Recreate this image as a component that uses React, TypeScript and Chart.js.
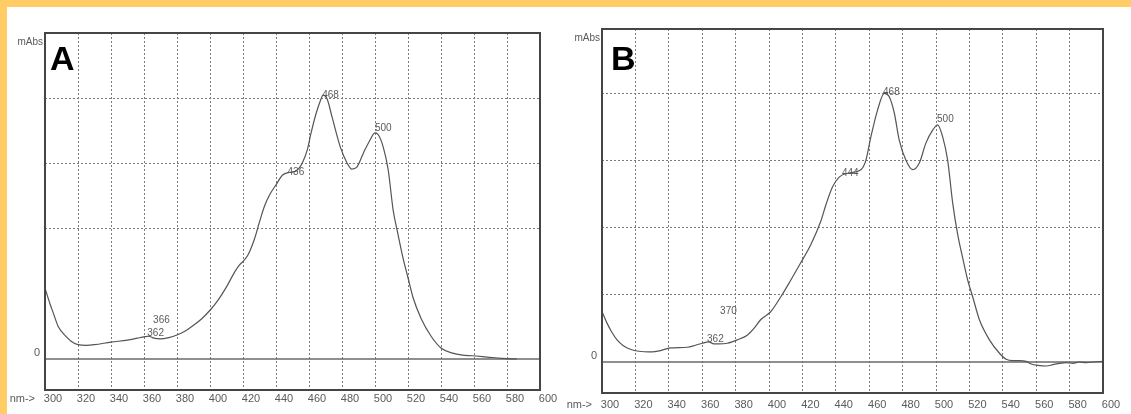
import React, { useEffect, useRef } from "react";
import { Chart, registerables } from "chart.js";

Chart.register(...registerables);

// ---------- data ----------
const wavelengthsA = [300, 303, 305, 308, 313, 316, 320, 325, 330, 340, 350, 356, 360, 363, 366, 370, 375, 380, 385, 390, 395, 400, 405, 410, 415, 418, 420, 423, 427, 430, 433, 436, 440, 444, 448, 452, 456, 459, 461, 464, 467, 468.5, 471, 474, 479, 483, 486, 489, 493, 497, 500, 502, 505, 508, 511, 514, 517, 520, 523, 528, 534, 540, 547, 553, 559, 568, 577, 586];
const absorbanceA = [109, 85, 71, 50, 34, 27, 22, 21, 22, 26, 29, 32, 34, 35, 32, 31, 33, 37, 43, 52, 62, 75, 91, 111, 134, 145, 150, 160, 185, 211, 235, 252, 268, 283, 287, 289, 302, 322, 345, 375, 398, 406, 400, 372, 326, 302, 292, 295, 317, 337, 348, 345, 326, 291, 229, 191, 155, 125, 95, 62, 35, 17, 9, 6, 5, 3, 1, 0];

const wavelengthsB = [300, 303, 306, 309, 313, 317, 322, 330, 335, 341, 351, 356, 360, 364, 367, 370, 375, 381, 387, 391, 395, 401, 407, 413, 419, 425, 431, 434, 438, 442, 448, 455, 458, 461, 465, 469, 472, 475, 478, 482, 486, 490, 494, 498, 501, 504, 507, 510, 513, 516, 519, 522, 526, 532, 538, 542, 546, 550, 554, 557, 561, 566, 570, 574, 578, 582, 586, 590, 594, 600];
const absorbanceB = [75, 58, 44, 33, 24, 19, 16, 15, 17, 21, 22, 25, 28, 30, 27, 27, 28, 33, 40, 50, 63, 75, 97, 122, 148, 175, 210, 234, 261, 276, 282, 287, 301, 336, 376, 401, 396, 372, 331, 301, 287, 297, 327, 346, 354, 336, 301, 237, 190, 155, 122, 97, 63, 33, 13, 4, 2, 2, 1, -3, -5, -6, -4, -2, -1, -2, 0, -1, 0, 1];

const xTickValues = [300, 320, 340, 360, 380, 400, 420, 440, 460, 480, 500, 520, 540, 560, 580, 600];
const gridValuesA = [200, 300, 400];
const gridValuesB = [100, 200, 300, 400];

const peakTextA = ["468", "500", "436", "366", "362"];
const peakXA = [468, 500, 447, 365.5, 362];
const peakYA = [406, 355, 288, 60, 40];

const peakTextB = ["468", "500", "444", "370", "362"];
const peakXB = [468.3, 500.6, 443.7, 370.7, 362.9];
const peakYB = [403, 363, 282, 75, 34];

const TEXT = "#5a5a5a";
const FONT = "'Liberation Sans', Arial, sans-serif";

type PanelCfg = {
  letter: string;
  xs: number[];
  ys: number[];
  grid: number[];
  peakText: string[];
  peakX: number[];
  peakY: number[];
  left: number;
  width: number;
  padTop: number;
  padRight: number;
  yWidth: number;
  xHeight: number;
  yMin: number;
  yMax: number;
  tickPad: number;
  letterDx: number;
  letterDy: number;
};

const panels: PanelCfg[] = [
  {
    letter: "A", xs: wavelengthsA, ys: absorbanceA, grid: gridValuesA,
    peakText: peakTextA, peakX: peakXA, peakY: peakYA,
    left: 0, width: 560, padTop: 33, padRight: 20, yWidth: 45, xHeight: 24,
    yMin: -47.7, yMax: 501.5, tickPad: 2, letterDx: 5, letterDy: 37,
  },
  {
    letter: "B", xs: wavelengthsB, ys: absorbanceB, grid: gridValuesB,
    peakText: peakTextB, peakX: peakXB, peakY: peakYB,
    left: 560, width: 571, padTop: 29, padRight: 28, yWidth: 42, xHeight: 21,
    yMin: -46.3, yMax: 497, tickPad: 5, letterDx: 9, letterDy: 41,
  },
];

function Panel({ cfg }: { cfg: PanelCfg }) {
  const ref = useRef<HTMLCanvasElement | null>(null);

  useEffect(() => {
    if (!ref.current) return;
    const decor = {
      id: "decor",
      beforeDatasetsDraw(chart: any) {
        const { ctx, chartArea: a, scales } = chart;
        const y0 = scales.y.getPixelForValue(0);
        ctx.save();
        ctx.strokeStyle = "#6a6a6a";
        ctx.lineWidth = 1.3;
        ctx.beginPath();
        ctx.moveTo(a.left, y0);
        ctx.lineTo(a.right, y0);
        ctx.stroke();
        ctx.restore();
      },
      afterDraw(chart: any) {
        const { ctx, chartArea: a, scales } = chart;
        ctx.save();
        ctx.strokeStyle = "#454545";
        ctx.lineWidth = 2;
        ctx.strokeRect(a.left, a.top, a.right - a.left, a.bottom - a.top);
        ctx.fillStyle = TEXT;
        ctx.font = `10px ${FONT}`;
        ctx.textAlign = "right";
        ctx.textBaseline = "middle";
        ctx.fillText("mAbs", a.left - 2, a.top + 9);
        ctx.font = `11px ${FONT}`;
        ctx.fillText("0", a.left - 5, scales.y.getPixelForValue(0) - 6);
        ctx.fillText("nm->", a.left - 10, a.bottom + cfg.tickPad + 7);
        ctx.textAlign = "left";
        ctx.font = `10px ${FONT}`;
        cfg.peakText.forEach((t, i) => {
          ctx.fillText(t, scales.x.getPixelForValue(cfg.peakX[i]), scales.y.getPixelForValue(cfg.peakY[i]));
        });
        ctx.fillStyle = "#000";
        ctx.font = `bold 34px ${FONT}`;
        ctx.textBaseline = "alphabetic";
        ctx.fillText(cfg.letter, a.left + cfg.letterDx, a.top + cfg.letterDy);
        ctx.restore();
      },
    };

    const chart = new Chart(ref.current, {
      type: "line",
      data: {
        datasets: [
          {
            data: cfg.xs.map((x, i) => ({ x, y: cfg.ys[i] })),
            borderColor: "#555",
            borderWidth: 1.2,
            pointRadius: 0,
            cubicInterpolationMode: "monotone",
            fill: false,
          },
        ],
      },
      options: {
        responsive: false,
        animation: false,
        layout: { padding: { top: cfg.padTop, right: cfg.padRight, left: 0, bottom: 0 } },
        plugins: { legend: { display: false }, tooltip: { enabled: false } },
        scales: {
          x: {
            type: "linear",
            min: 300,
            max: 600,
            afterBuildTicks: (s: any) => {
              s.ticks = xTickValues.map((v) => ({ value: v }));
            },
            afterFit: (s: any) => {
              s.height = cfg.xHeight;
            },
            grid: {
              color: (c: any) =>
                c.tick && (c.tick.value === 300 || c.tick.value === 600) ? "rgba(0,0,0,0)" : "#7a7a7a",
              lineWidth: 1,
              drawTicks: false,
            },
            border: { display: false, dash: [2, 2] },
            ticks: {
              autoSkip: false,
              maxRotation: 0,
              padding: cfg.tickPad,
              labelOffset: 8,
              color: TEXT,
              font: { size: 11, family: FONT },
              callback: (v: any) => String(v),
            },
          },
          y: {
            type: "linear",
            min: cfg.yMin,
            max: cfg.yMax,
            afterBuildTicks: (s: any) => {
              s.ticks = cfg.grid.map((v) => ({ value: v }));
            },
            afterFit: (s: any) => {
              s.width = cfg.yWidth;
            },
            grid: { color: "#7a7a7a", lineWidth: 1, drawTicks: false },
            border: { display: false, dash: [2, 2] },
            ticks: { display: false },
          },
        },
      },
      plugins: [decor],
    } as any);
    return () => chart.destroy();
  }, [cfg]);

  return (
    <canvas
      ref={ref}
      width={cfg.width}
      height={414}
      style={{ position: "absolute", left: cfg.left, top: 0, width: cfg.width, height: 414 }}
    />
  );
}

export default function App() {
  return (
    <div
      style={{
        position: "absolute",
        left: 0,
        top: 0,
        width: 1131,
        height: 414,
        background: "#fff",
        overflow: "hidden",
      }}
    >
      <div style={{ position: "absolute", left: 0, top: 0, width: 1131, height: 7, background: "#FFCC66" }} />
      <div style={{ position: "absolute", left: 0, top: 0, width: 7, height: 414, background: "#FFCC66" }} />
      {panels.map((p) => (
        <Panel key={p.letter} cfg={p} />
      ))}
    </div>
  );
}
